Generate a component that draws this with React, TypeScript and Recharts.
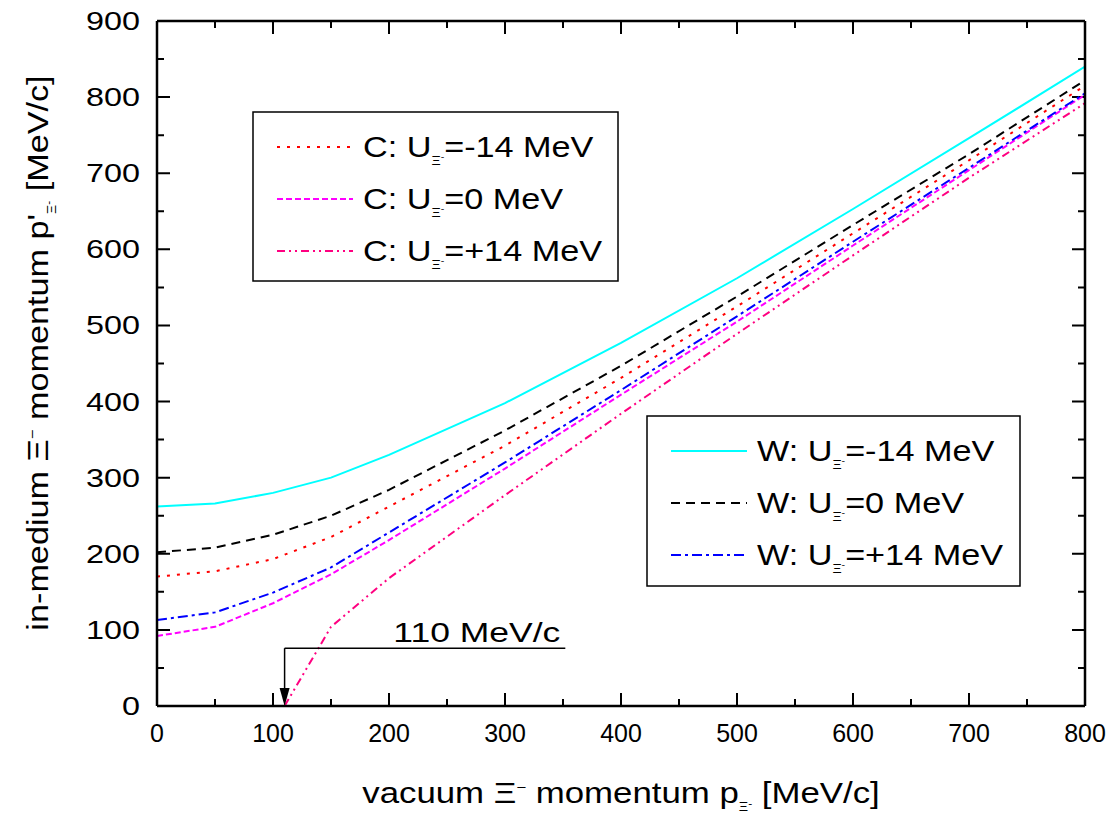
import React from "react";
import { LineChart, Line, XAxis, YAxis, ReferenceLine } from "recharts";

// vacuum momentum grid (MeV/c)
const xs = [0, 50, 100, 150, 200, 300, 400, 500, 600, 700, 800];
const xsC14 = [110, 150, 200, 300, 400, 500, 600, 700, 800];

// in-medium momentum (MeV/c)
const wMinus14 = [262, 266, 280, 300, 330, 398, 477, 562, 653, 746, 840];
const wZero = [202, 208, 225, 250, 284, 362, 447, 538, 632, 725, 822];
const cMinus14 = [170, 177, 193, 222, 262, 342, 431, 525, 621, 717, 815];
const wPlus14 = [113, 123, 149, 182, 228, 320, 415, 512, 610, 707, 805];
const cZero = [92, 104, 135, 173, 218, 312, 409, 505, 605, 704, 803];
const cPlus14 = [0, 104, 168, 277, 384, 489, 592, 694, 792];

const xTicks = [0, 100, 200, 300, 400, 500, 600, 700, 800];
const yTicks = [0, 100, 200, 300, 400, 500, 600, 700, 800, 900];
const xMinor = [50, 150, 250, 350, 450, 550, 650, 750];
const yMinor = [50, 150, 250, 350, 450, 550, 650, 750, 850];

const threshold = 110;
const annoY = 76;
const annoEnd = 352;

const FONT = "Arial, 'Liberation Sans', Helvetica, sans-serif";

const toPts = (x: number[], y: number[]) => x.map((v, i) => ({ x: v, y: y[i] }));

const series = [
  { key: "c-14", name: "-14", prefix: "C", data: toPts(xs, cMinus14), color: "#ff0000", dash: "3 7" },
  { key: "c0", name: "0", prefix: "C", data: toPts(xs, cZero), color: "#ff00ff", dash: "6 3" },
  { key: "c+14", name: "+14", prefix: "C", data: toPts(xsC14, cPlus14), color: "#ff0080", dash: "8 4 2 4 2 4" },
  { key: "w-14", name: "-14", prefix: "W", data: toPts(xs, wMinus14), color: "#00ffff", dash: undefined },
  { key: "w0", name: "0", prefix: "W", data: toPts(xs, wZero), color: "#000000", dash: "9 6" },
  { key: "w+14", name: "+14", prefix: "W", data: toPts(xs, wPlus14), color: "#0000ff", dash: "10 4 3 4" },
];

// inward ticks: drawn at both ends of an invisible reference line
const VTicks = ({ x1, y1, x2, y2, len }: any) => {
  const top = Math.min(y1, y2);
  const bot = Math.max(y1, y2);
  return (
    <path d={`M${x1},${bot}V${bot - len}M${x2},${top}V${top + len}`} stroke="#000" strokeWidth={2} fill="none" />
  );
};

const HTicks = ({ x1, y1, x2, y2, len }: any) => {
  const l = Math.min(x1, x2);
  const r = Math.max(x1, x2);
  return <path d={`M${l},${y1}H${l + len}M${r},${y2}H${r - len}`} stroke="#000" strokeWidth={2} fill="none" />;
};

const BottomLabel = ({ x, y, payload }: any) => (
  <text x={x} y={y + 27} textAnchor="middle" dominantBaseline="central" fontSize={25} fontFamily={FONT} fill="#000">
    {payload.value}
  </text>
);

const LeftLabel = ({ x, y, payload }: any) => {
  const s = String(payload.value);
  return (
    <text
      x={x - 17}
      y={y}
      textAnchor="end"
      dominantBaseline="central"
      fontSize={25}
      fontFamily={FONT}
      fill="#000"
      textLength={s.length * 18}
      lengthAdjust="spacingAndGlyphs"
    >
      {s}
    </text>
  );
};

const XTitle = () => (
  <g transform="translate(621,803) scale(1.2,1)">
    <text x={0} y={0} textAnchor="middle" fontSize={29} fontFamily={FONT} fill="#000">
      vacuum Ξ<tspan dy={-11} fontSize={14}>−</tspan>
      <tspan dy={11}> momentum p</tspan>
      <tspan dy={8} fontSize={12}>Ξ</tspan>
      <tspan dy={-4} fontSize={10}>-</tspan>
      <tspan dy={-4}> [MeV/c]</tspan>
    </text>
  </g>
);

const YTitle = () => (
  <g transform="translate(48,353) rotate(-90) scale(1.18,1)">
    <text x={0} y={0} textAnchor="middle" fontSize={29} fontFamily={FONT} fill="#000">
      in-medium Ξ<tspan dy={-11} fontSize={14}>−</tspan>
      <tspan dy={11}> momentum p'</tspan>
      <tspan dy={8} fontSize={12}>Ξ</tspan>
      <tspan dy={-4} fontSize={10}>-</tspan>
      <tspan dy={-4}> [MeV/c]</tspan>
    </text>
  </g>
);

const ArrowShape = (props: any) => {
  const { x1, y1, x2, y2 } = props;
  return (
    <g>
      <line x1={x1} y1={y1} x2={x2} y2={y2 - 16} stroke="#000" strokeWidth={1.5} />
      <polygon points={`${x2 - 5},${y2 - 18} ${x2 + 5},${y2 - 18} ${x2},${y2}`} fill="#000" />
    </g>
  );
};

const HLineShape = (props: any) => {
  const { x1, y1, x2, y2 } = props;
  return (
    <g>
      <line x1={x1} y1={y1} x2={x2} y2={y2} stroke="#000" strokeWidth={1.5} />
      <text
        x={x2 - 5}
        y={y1 - 6}
        textAnchor="end"
        fontSize={28}
        fontFamily={FONT}
        fill="#000"
        textLength={167}
        lengthAdjust="spacingAndGlyphs"
      >
        110 MeV/c
      </text>
    </g>
  );
};

function LegendBox({ left, top, width, height, items }: any) {
  return (
    <g>
      <rect x={left} y={top} width={width} height={height} fill="#fff" stroke="#000" strokeWidth={1.5} />
      {items.map((s: any, i: number) => {
        const cy = top + 35 + i * 52;
        return (
          <g key={s.key}>
            <line x1={left + 24} x2={left + 100} y1={cy} y2={cy} stroke={s.color} strokeWidth={2} strokeDasharray={s.dash} />
            <g transform={`translate(${left + 110},${cy}) scale(1.18,1)`}>
              <text x={0} y={10} fontSize={29} fontFamily={FONT} fill="#000">
                {s.prefix}: U<tspan dy={8} fontSize={12}>Ξ</tspan>
                <tspan dy={-5} fontSize={9}>-</tspan>
                <tspan dy={-3}>={s.name} MeV</tspan>
              </text>
            </g>
          </g>
        );
      })}
    </g>
  );
}

export default function App() {
  return (
    <div style={{ position: "absolute", left: 0, top: 0, width: 1112, height: 813, background: "#fff" }}>
      <LineChart width={1112} height={813} margin={{ top: 20, right: 26, left: 0, bottom: 0 }}>
        <XAxis
          dataKey="x"
          type="number"
          domain={[0, 800]}
          ticks={xTicks}
          interval={0}
          height={107}
          tickSize={0}
          tickMargin={0}
          tickLine={false}
          tick={<BottomLabel />}
          axisLine={{ stroke: "#000", strokeWidth: 2.5 }}
          allowDataOverflow
        />
        <XAxis
          xAxisId="top"
          orientation="top"
          type="number"
          domain={[0, 800]}
          ticks={xTicks}
          height={1}
          tick={false}
          tickLine={false}
          axisLine={{ stroke: "#000", strokeWidth: 2.5 }}
        />
        <YAxis
          type="number"
          domain={[0, 900]}
          ticks={yTicks}
          interval={0}
          width={157}
          tickSize={0}
          tickMargin={0}
          tickLine={false}
          tick={<LeftLabel />}
          axisLine={{ stroke: "#000", strokeWidth: 2.5 }}
          allowDataOverflow
        />
        <YAxis
          yAxisId="right"
          orientation="right"
          type="number"
          domain={[0, 900]}
          ticks={yTicks}
          width={1}
          tick={false}
          tickLine={false}
          axisLine={{ stroke: "#000", strokeWidth: 2.5 }}
        />
        {xTicks.map((v) => (
          <ReferenceLine key={`xM${v}`} x={v} stroke="none" shape={<VTicks len={13} />} />
        ))}
        {xMinor.map((v) => (
          <ReferenceLine key={`xm${v}`} x={v} stroke="none" shape={<VTicks len={7} />} />
        ))}
        {yTicks.map((v) => (
          <ReferenceLine key={`yM${v}`} y={v} stroke="none" shape={<HTicks len={13} />} />
        ))}
        {yMinor.map((v) => (
          <ReferenceLine key={`ym${v}`} y={v} stroke="none" shape={<HTicks len={7} />} />
        ))}
        {series.map((s) => (
          <Line
            key={s.key}
            data={s.data}
            dataKey="y"
            type="linear"
            stroke={s.color}
            strokeWidth={2}
            strokeDasharray={s.dash}
            dot={false}
            activeDot={false}
            isAnimationActive={false}
          />
        ))}
        <ReferenceLine
          segment={[
            { x: threshold, y: annoY },
            { x: annoEnd, y: annoY },
          ]}
          shape={<HLineShape />}
        />
        <ReferenceLine
          segment={[
            { x: threshold, y: annoY },
            { x: threshold, y: 0 },
          ]}
          shape={<ArrowShape />}
        />
      </LineChart>
      <svg width={1112} height={813} style={{ position: "absolute", left: 0, top: 0, pointerEvents: "none" }}>
        <XTitle />
        <YTitle />
        <LegendBox left={253} top={112} width={365} height={169} items={series.slice(0, 3)} />
        <LegendBox left={647} top={416} width={373} height={170} items={series.slice(3)} />
      </svg>
    </div>
  );
}
